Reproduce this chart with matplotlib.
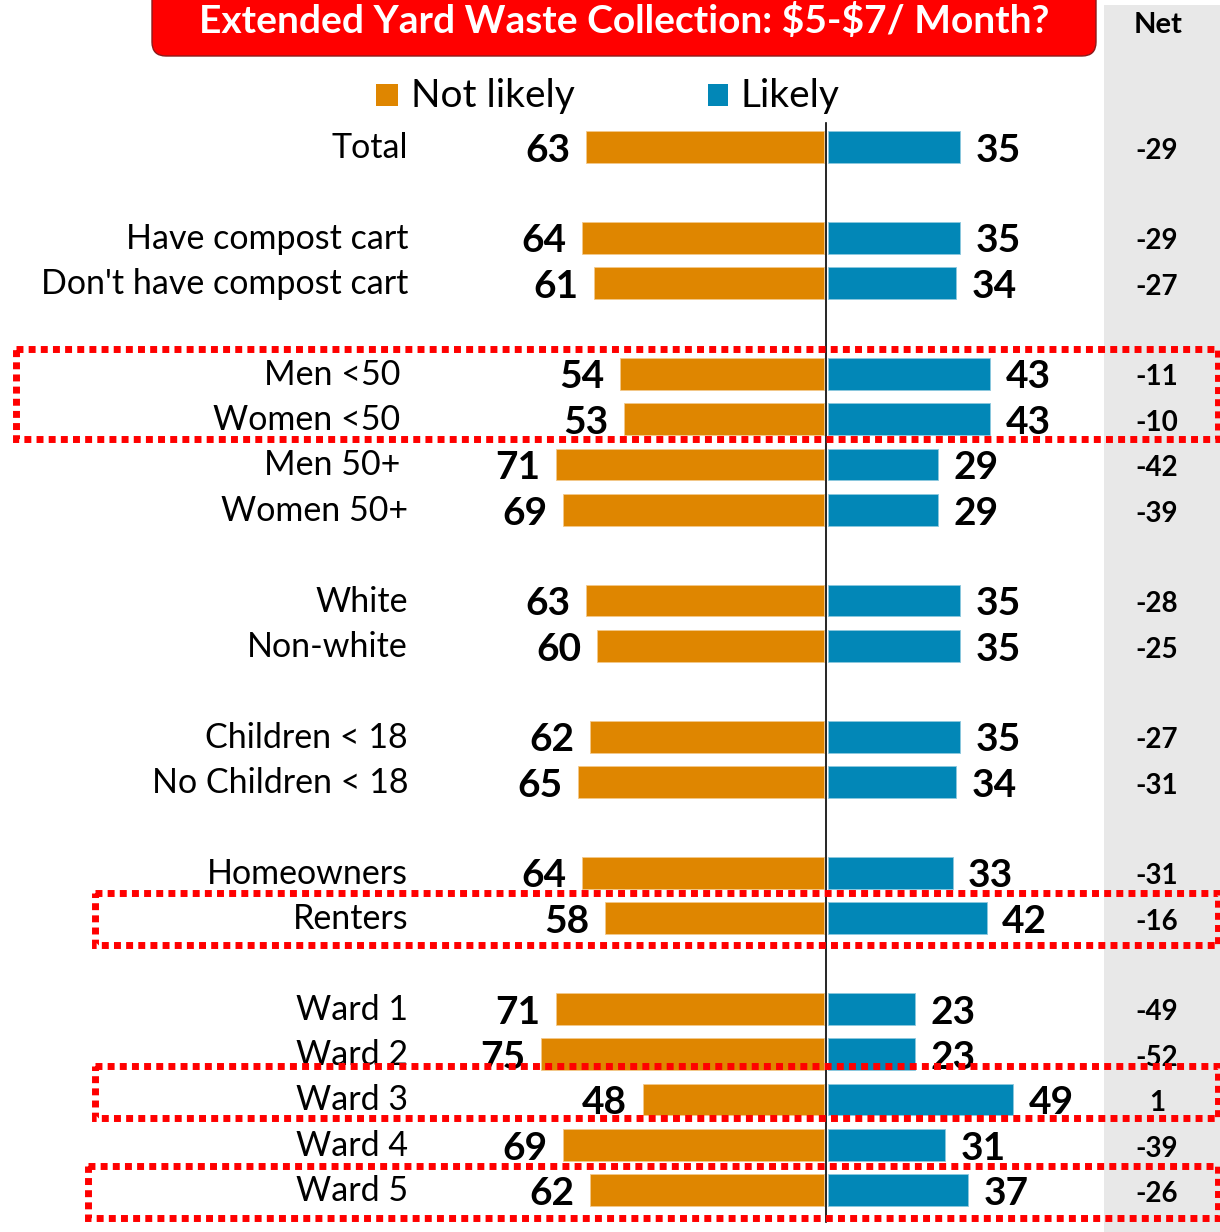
import numpy as np
import matplotlib.pyplot as plt
from matplotlib.patches import Rectangle, FancyBboxPatch

plt.rcParams['font.family'] = ['Lato', 'DejaVu Sans']
plt.rcParams['text.parse_math'] = False

# data
groups = ["Total", "Have compost cart", "Don't have compost cart",
          "Men <50", "Women <50", "Men 50+", "Women 50+",
          "White", "Non-white", "Children < 18", "No Children < 18",
          "Homeowners", "Renters",
          "Ward 1", "Ward 2", "Ward 3", "Ward 4", "Ward 5"]
rows = [0, 2, 3, 5, 6, 7, 8, 10, 11, 13, 14, 16, 17, 19, 20, 21, 22, 23]
not_likely = [63, 64, 61, 54, 53, 71, 69, 63, 60, 62, 65, 64, 58, 71, 75, 48, 69, 62]
likely = [35, 35, 34, 43, 43, 29, 29, 35, 35, 35, 34, 33, 42, 23, 23, 49, 31, 37]
net = [-29, -29, -27, -11, -10, -42, -39, -28, -25, -27, -31, -31, -16, -49, -52, 1, -39, -26]
highlights = [("Men <50", "Women <50"), ("Renters", "Renters"),
              ("Ward 3", "Ward 3"), ("Ward 5", "Ward 5")]
title = "Extended Yard Waste Collection: $5-$7/ Month?"

ORANGE = '#DF8600'
BLUE = '#0287B7'

# pixel -> data helpers (figure is 1220 x 1232 px)
SX, SY = 3.78, 45.36
def px_x(p):
    return (p - 826) / SX
def px_y(p):
    return (p - 147) / SY

fig = plt.figure(figsize=(12.2, 12.32), dpi=100)
ax = fig.add_axes([0, 0, 1, 1])
ax.set_xlim(px_x(0), px_x(1220))
ax.set_ylim(px_y(1232), px_y(0))
ax.axis('off')

# net column background
ax.add_patch(Rectangle((px_x(1104), px_y(5)), px_x(1222) - px_x(1104),
                       px_y(1240) - px_y(5), color='#E8E8E8', zorder=0, lw=0))
ax.text(px_x(1158), px_y(25), "Net", ha='center', va='center',
        fontsize=21, fontweight='bold')

# bars
nl = np.array(not_likely)
lk = np.array(likely)
ax.barh(rows, -nl, left=-0.5, height=0.7, color=ORANGE, edgecolor='#F3C98A', lw=0.6, zorder=2)
ax.barh(rows, lk, left=0.5, height=0.7, color=BLUE, edgecolor='#8CC8DE', lw=0.6, zorder=2)
ax.plot([0, 0], [px_y(123), px_y(1222)], color='black', lw=1.2, zorder=3)

shifted = {"Men <50", "Women <50", "Men 50+"}
for g, r, a, b, n in zip(groups, rows, not_likely, likely, net):
    lx = px_x(400) if g in shifted else px_x(408)
    ax.text(lx, r + 0.02, g, ha='right', va='center', fontsize=24.5, zorder=4)
    ax.text(-a - 4.6, r + 0.07, str(a), ha='right', va='center',
            fontsize=28, fontweight='bold', zorder=4)
    ax.text(b + 4.6, r + 0.07, str(b), ha='left', va='center',
            fontsize=28, fontweight='bold', zorder=4)
    ax.text(px_x(1157), r + 0.08, str(n), ha='center', va='center',
            fontsize=20, fontweight='bold', zorder=4)

# title box
tb = FancyBboxPatch((px_x(152), px_y(-20)), px_x(1096) - px_x(152), px_y(56) - px_y(-20),
                    boxstyle='round,pad=0,rounding_size=%f' % (14 / SX),
                    mutation_aspect=SX / SY, fc='#FF0000', ec='#8B1A1A', lw=1.0, zorder=5)
ax.add_patch(tb)
ax.text(px_x(624), px_y(21), title, ha='center', va='center', color='white',
        fontsize=28, fontweight='bold', zorder=6)

# legend
ax.add_patch(Rectangle((px_x(376), px_y(106)), px_x(398) - px_x(376), px_y(84) - px_y(106),
                       color=ORANGE, lw=0))
ax.text(px_x(411), px_y(96), "Not likely", ha='left', va='center', fontsize=28)
ax.add_patch(Rectangle((px_x(708), px_y(106)), px_x(728) - px_x(708), px_y(84) - px_y(106),
                       color=BLUE, lw=0))
ax.text(px_x(741), px_y(96), "Likely", ha='left', va='center', fontsize=28)

# dotted highlight boxes
lefts = [16, 95, 95, 88]
pads = [(0.55, 0.44), (0.55, 0.59), (0.74, 0.41), (0.54, 0.61)]
for (g0, g1), left, (pt, pb) in zip(highlights, lefts, pads):
    r0 = rows[groups.index(g0)] - pt
    r1 = rows[groups.index(g1)] + pb
    ax.add_patch(Rectangle((px_x(left), r0), px_x(1218) - px_x(left), r1 - r0,
                           fill=False, ec='#FF0000', lw=5, linestyle=(0, (1, 0.75)),
                           zorder=7))

fig.savefig('out.png', dpi=100)
